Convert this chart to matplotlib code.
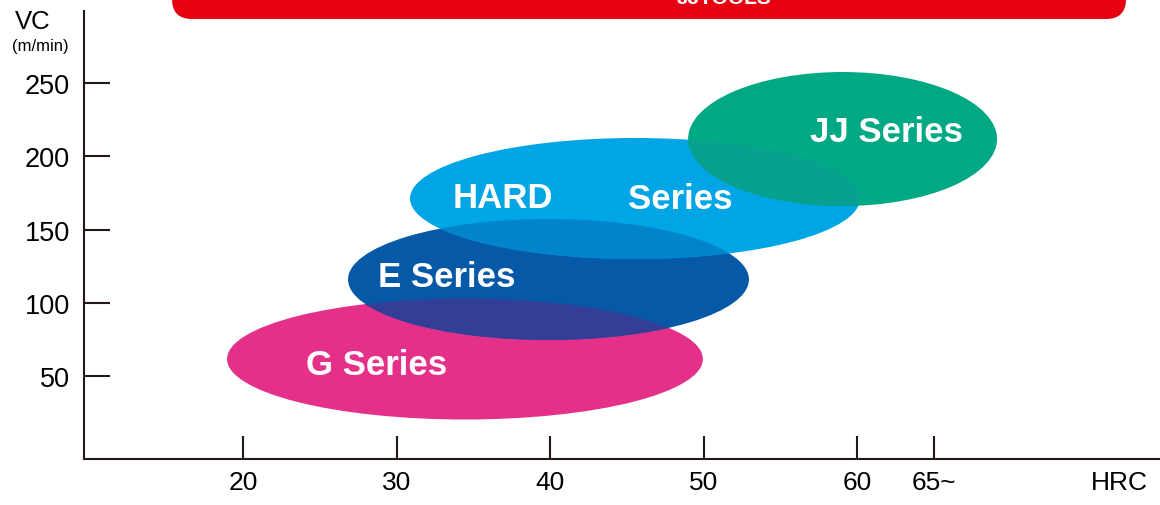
import matplotlib
matplotlib.use("Agg")
import matplotlib.pyplot as plt
from matplotlib.patches import Ellipse, FancyBboxPatch

plt.rcParams['font.family'] = ['Liberation Sans', 'DejaVu Sans']

# series ellipses: HRC centre, VC centre, HRC span, VC span
series = ['G Series', 'E Series', 'HARD Series', 'JJ Series']
cx = [34.46, 39.90, 45.54, 59.06]
cy = [61.6, 115.9, 171.2, 211.8]
span_x = [31.0, 26.12, 29.32, 20.13]
span_y = [82.6, 82.6, 82.6, 91.5]
colors = ['#E5308A', '#0559A7', '#00A5E5', '#00A983']
# colour of each ellipse where it overlaps the one below it
overlap = [None, '#333F97', '#0284CB', '#08A18F']

# labels inside the ellipses (x, baseline y)
labels = ['G Series', 'E Series', 'HARD', 'Series', 'JJ Series']
label_x = [28.73, 33.29, 36.94, 48.47, 61.89]
label_y = [51.4, 111.4, 165.4, 164.7, 210.4]

xticks = [20, 30, 40, 50, 60, 65]
xticklabels = ['20', '30', '40', '50', '60', '65~']
yticks = [50, 100, 150, 200, 250]

fig = plt.figure(figsize=(11.6, 5.06), dpi=100)
ax = fig.add_axes([84/1160, 46/506, 1076/1160, 448/506])
ax.set_xlim(9.64, 79.74)
ax.set_ylim(-6.66, 299.2)

prev = None
for i in range(len(series)):
    e = Ellipse((cx[i], cy[i]), span_x[i], span_y[i], facecolor=colors[i], edgecolor='none', zorder=2+i)
    ax.add_patch(e)
    if prev is not None:
        o = Ellipse((cx[i], cy[i]), span_x[i], span_y[i], facecolor=overlap[i], edgecolor='none', zorder=2+i+0.5)
        ax.add_patch(o)
        o.set_clip_path(prev)
    prev = e

for t, x, y in zip(labels, label_x, label_y):
    ax.text(x, y, t, color='white', fontsize=25, fontweight='bold', ha='center', va='baseline', zorder=10)

for s in ['top', 'right']:
    ax.spines[s].set_visible(False)
for s in ['left', 'bottom']:
    ax.spines[s].set_linewidth(1.5)
    ax.spines[s].set_color('#231815')

ax.set_yticks(yticks)
ax.set_yticklabels([str(v) for v in yticks], fontsize=19.5)
ax.tick_params(axis='y', direction='in', length=18.7, width=1.5, pad=10, color='#231815')

hrc_x = 77.1
ax.set_xticks(xticks + [hrc_x])
ax.set_xticklabels(xticklabels + ['HRC'], fontsize=19, family=['Liberation Sans Narrow', 'Liberation Sans'])
ax.tick_params(axis='x', direction='in', length=16.5, width=1.5, pad=8, color='#231815')
ax.xaxis.get_major_ticks()[-1].tick1line.set_visible(False)

fig.text(33/1160, 1-22/506, 'VC', fontsize=18.5, ha='center', va='center')
fig.text(40/1160, 1-47/506, '(m/min)', fontsize=12, ha='center', va='center')

# red banner across the top (display pixels, origin bottom-left)
banner = FancyBboxPatch((172, 506-20), 954, 60, boxstyle='round,pad=0,rounding_size=20',
                        transform=None, facecolor='#E60012', edgecolor='none')
fig.patches.append(banner)
fig.text(724/1160, 1-4/506, 'JJTOOLS', color='white', fontsize=15, fontweight='bold',
         ha='center', va='baseline')

fig.savefig('out.png', dpi=100)
